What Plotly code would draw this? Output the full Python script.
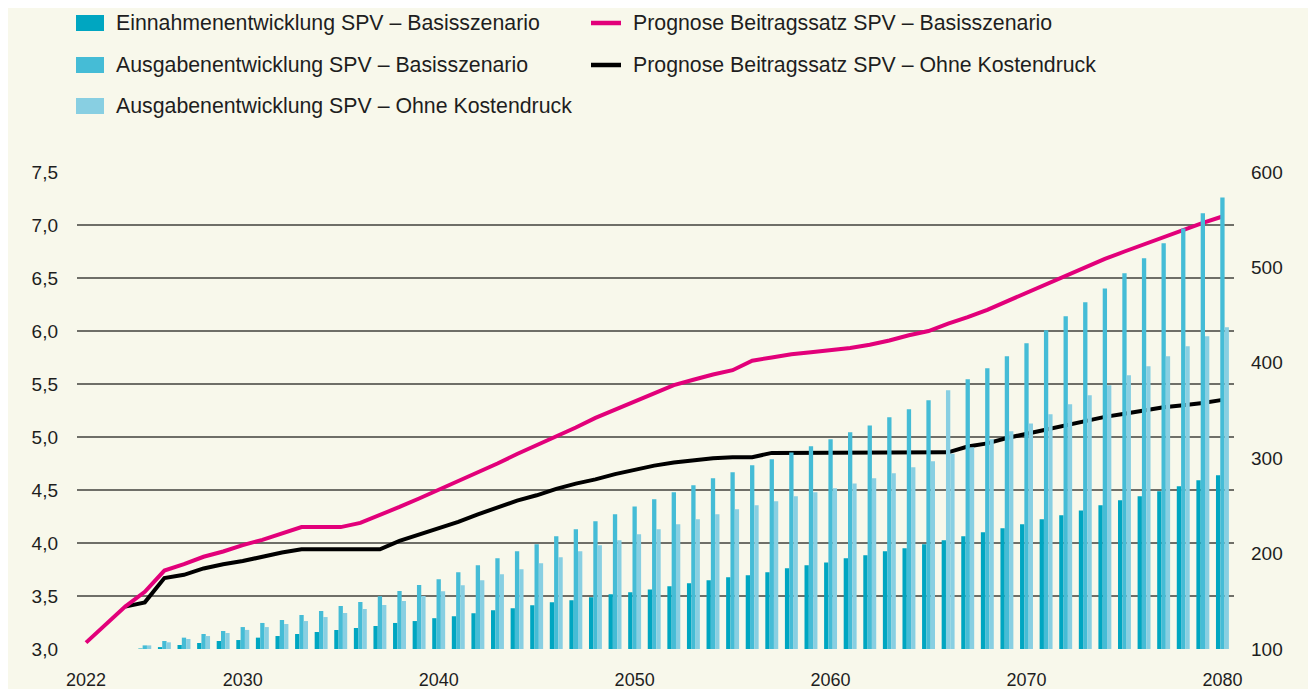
import plotly.graph_objects as go

# ---------------- data ----------------
bar_years = list(range(2025, 2081))

einnahmen_basis = [100.5, 102, 104.2, 106.3, 108.4, 109.4, 111.9, 113.6, 115.7, 117.8,
                   119.9, 122, 124.1, 127.3, 129.3, 132.3, 134.2, 137.4, 140.5, 142.6,
                   145.8, 148.9, 151, 154.2, 157.3, 159.4, 162.5, 165.7, 168.8, 172,
                   175.1, 177.2, 180.4, 184.6, 187.7, 190.8, 195, 198.2, 202.4, 205.5,
                   209.7, 213.9, 218.1, 222.3, 226.5, 230.7, 235.9, 240.1, 245.3, 250.6,
                   255.8, 260, 265.3, 270.5, 276.8, 282]

ausgaben_basis = [103.8, 108.4, 111.9, 115.7, 118.9, 123, 127.3, 130.4, 135.6, 139.8,
                  145, 149.3, 155.2, 160.8, 167.1, 173.2, 180.4, 187.7, 195, 202.4,
                  209.7, 218.1, 225.4, 233.8, 241.2, 249.5, 256.9, 264.2, 271.6, 278.9,
                  285.2, 292.5, 298.8, 306.1, 312.4, 319.8, 327.1, 334.4, 342.8, 351.2,
                  360.7, 371.1, 382.7, 394.2, 406.8, 420.4, 434, 448.7, 463.4, 478,
                  493.8, 509.5, 525.2, 540.9, 556.7, 573.4]

ausgaben_ohne = [103.8, 107, 110.5, 113.6, 116.8, 120, 123, 126.2, 129.3, 133.5,
                 137.7, 141.9, 146.1, 150.3, 155.6, 160.6, 166.7, 172, 178.3, 183.5,
                 189.8, 196.1, 202.4, 208.7, 213.9, 220.2, 225.4, 230.7, 235.9, 241.2,
                 246.4, 250.6, 254.8, 260, 264.2, 268.4, 273.6, 278.9, 284.1, 290.4,
                 296.7, 304.7, 311.4, 319.8, 328.2, 336.5, 346, 356.5, 365.9, 376.4,
                 386.9, 396.3, 406.8, 417.3, 427.7, 437.2]

pink_years = [2022] + list(range(2024, 2081))
beitrag_basis = [3.06, 3.40, 3.54, 3.74, 3.80, 3.87, 3.92, 3.98, 4.03, 4.09,
                 4.15, 4.15, 4.15, 4.19, 4.26, 4.34, 4.42, 4.50, 4.58, 4.66,
                 4.75, 4.84, 4.92, 5.01, 5.09, 5.18, 5.26, 5.34, 5.42, 5.49,
                 5.54, 5.59, 5.63, 5.72, 5.75, 5.78, 5.80, 5.82, 5.84, 5.87,
                 5.91, 5.96, 6.00, 6.07, 6.13, 6.20, 6.28, 6.36, 6.44, 6.53,
                 6.60, 6.68, 6.75, 6.82, 6.89, 6.96, 7.02, 7.08]

black_years = list(range(2024, 2081))
beitrag_ohne = [3.40, 3.44, 3.67, 3.70, 3.76, 3.80, 3.83, 3.87, 3.91, 3.94,
                3.94, 3.94, 3.94, 3.94, 4.02, 4.08, 4.14, 4.20, 4.27, 4.34,
                4.40, 4.45, 4.51, 4.56, 4.60, 4.65, 4.69, 4.73, 4.76, 4.78,
                4.80, 4.81, 4.81, 4.85, 4.85, 4.85, 4.85, 4.85, 4.85, 4.85,
                4.85, 4.85, 4.855, 4.91, 4.94, 4.99, 5.03, 5.07, 5.11, 5.15,
                5.19, 5.22, 5.25, 5.28, 5.30, 5.32, 5.35]

x_tickvals = [2022, 2030, 2040, 2050, 2060, 2070, 2080]
left_ticks = [3.0, 3.5, 4.0, 4.5, 5.0, 5.5, 6.0, 6.5, 7.0, 7.5]
right_ticks = [100, 200, 300, 400, 500, 600]

legend_bars = ["Einnahmenentwicklung SPV – Basisszenario",
               "Ausgabenentwicklung SPV – Basisszenario",
               "Ausgabenentwicklung SPV – Ohne Kostendruck"]
legend_lines = ["Prognose Beitragssatz SPV – Basisszenario",
                "Prognose Beitragssatz SPV – Ohne Kostendruck"]

# ---------------- style ----------------
C_DARK = "#00A6C1"
C_MED = "#45BCD6"
C_LIGHT = "#88CFE2"
C_PINK = "#E2007A"
C_BLACK = "#000000"
BG = "#F8F8EB"
GRID = "#6F6F68"
TXT = "#1E1E1E"
FONT = "Liberation Sans, Arial, sans-serif"

# the page body has an 8px margin, so the figure is drawn 8px in from the top-left
OFF = 8
W, H = 1316 - OFF, 689 - OFF
# plot area in page pixels: x 77..1234, y 172..649
L, T = 77 - OFF, 172 - OFF
R = W - (1234 - OFF)
B = H - (649 - OFF)
PW, PH = W - L - R, H - T - B

def px(x):   # page pixel -> paper x
    return (x - OFF - L) / PW

def py(y):   # page pixel -> paper y
    return (H - B - (y - OFF)) / PH

med_colors = [C_LIGHT if yr == 2066 else C_MED for yr in bar_years]

fig = go.Figure()

fig.add_trace(go.Scatter(x=black_years, y=beitrag_ohne, mode="lines",
                         line=dict(color=C_BLACK, width=4), yaxis="y",
                         showlegend=False, hoverinfo="skip"))
fig.add_trace(go.Scatter(x=pink_years, y=beitrag_basis, mode="lines",
                         line=dict(color=C_PINK, width=4), yaxis="y",
                         showlegend=False, hoverinfo="skip"))

fig.add_trace(go.Bar(x=bar_years, y=einnahmen_basis, marker=dict(color=C_DARK, line=dict(width=0)),
                     yaxis="y2", showlegend=False))
fig.add_trace(go.Bar(x=bar_years, y=ausgaben_basis, marker=dict(color=med_colors, line=dict(width=0)),
                     yaxis="y2", showlegend=False))
fig.add_trace(go.Bar(x=bar_years, y=ausgaben_ohne, marker=dict(color=C_LIGHT, line=dict(width=0)),
                     yaxis="y2", showlegend=False))

# ---------------- manual legend ----------------
shapes = []
annotations = []
rows = [23, 65, 106]
for label, col, yc in zip(legend_bars, [C_DARK, C_MED, C_LIGHT], rows):
    shapes.append(dict(type="rect", xref="paper", yref="paper",
                       x0=px(76), x1=px(104), y0=py(yc + 8), y1=py(yc - 8),
                       fillcolor=col, line=dict(width=0)))
    annotations.append(dict(text=label, xref="paper", yref="paper", x=px(114), y=py(yc),
                            xanchor="left", yanchor="middle", showarrow=False,
                            font=dict(family=FONT, size=21.3, color=TXT)))
for label, col, yc in zip(legend_lines, [C_PINK, C_BLACK], rows[:2]):
    shapes.append(dict(type="line", xref="paper", yref="paper",
                       x0=px(591), x1=px(621), y0=py(yc), y1=py(yc),
                       line=dict(color=col, width=4.5)))
    annotations.append(dict(text=label, xref="paper", yref="paper", x=px(631), y=py(yc),
                            xanchor="left", yanchor="middle", showarrow=False,
                            font=dict(family=FONT, size=21.3, color=TXT)))

fig.update_layout(
    width=W, height=H,
    margin=dict(l=L, r=R, t=T, b=B, pad=0, autoexpand=False),
    paper_bgcolor=BG, plot_bgcolor=BG,
    separators=",.",
    barmode="group", bargap=0.34, bargroupgap=0,
    showlegend=False,
    font=dict(family=FONT, size=19, color=TXT),
    xaxis=dict(range=[2021.54, 2080.59], tickvals=x_tickvals, ticktext=[str(v) for v in x_tickvals],
               showgrid=False, zeroline=False, showline=False, ticks="", automargin=False,
               ticklabelstandoff=18, tickfont=dict(size=18)),
    yaxis=dict(range=[3.0, 7.5], tickvals=left_ticks, tickformat=".1f", automargin=False,
               showgrid=True, gridcolor=GRID, gridwidth=1.6, zeroline=False,
               showline=False, ticks="", ticklabelstandoff=18),
    yaxis2=dict(range=[100, 600], tickvals=right_ticks, overlaying="y", side="right",
                showgrid=False, zeroline=False, showline=False, ticks="", automargin=False,
                ticklabelstandoff=16),
    shapes=shapes,
    annotations=annotations,
)

fig.write_html("out.html")
